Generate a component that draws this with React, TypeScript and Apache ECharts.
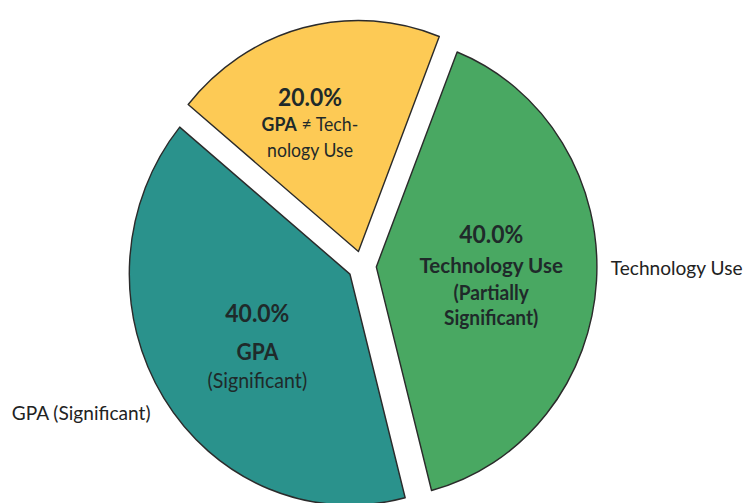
import { useEffect, useRef } from 'react';
import * as echarts from 'echarts';

// Share of findings per relationship
const categories = ['GPA ≠ Technology Use', 'Technology Use', 'GPA (Significant)'];
const shares = [20, 40, 40];
const sliceColors = ['#FDCA55', '#49A862', '#2A928C'];

// Caption shown under the percentage inside each slice (rich-text markup)
const insideCaptions = [
  '{yb|GPA}{yr| ≠ Tech-}\n{yr|nology Use}',
  '{gb|Technology Use}\n{gr|(Partially}\n{gr|Significant)}',
  '{tb|GPA}\n{tr|(Significant)}',
];
const pctStyleKeys = ['yp', 'gp', 'tp'];

// Name written beside the pie (none for the top slice)
const outsideLabels = ['', 'Technology Use', 'GPA (Significant)'];

const FONT = 'Lato, "Noto Sans", sans-serif';
const INK = '#1f2a2a';

// The chart surface is a little wider than the page and squeezed horizontally,
// so the pie reads slightly narrower than tall while nothing gets clipped.
const SQUEEZE = 0.955;
const BLEED = 18;
const PAGE_W = 747;
const PAGE_H = 503;

export default function App() {
  const ref = useRef<HTMLDivElement>(null);

  useEffect(() => {
    if (!ref.current) return;
    const chart = echarts.init(ref.current, null, { renderer: 'svg' });
    const total = shares.reduce((a, b) => a + b, 0);

    const insideNudge = [
      [-21, -14],
      [2, 0],
      [3, 3],
    ];
    const outsideNudge = [
      [0, 0],
      [10, -14],
      [-9, 14],
    ];

    const geometry = {
      type: 'pie' as const,
      center: [362 + BLEED, 266],
      radius: 231,
      startAngle: 140.5,
      clockwise: true,
      selectedMode: 'multiple' as const,
      selectedOffset: 15,
      avoidLabelOverlap: false,
      emphasis: { disabled: true },
    };

    chart.setOption({
      animation: false,
      backgroundColor: '#ffffff',
      series: [
        {
          ...geometry,
          name: 'slices',
          data: categories.map((name, i) => ({
            name,
            value: shares[i],
            selected: true,
            itemStyle: { color: sliceColors[i] },
          })),
          itemStyle: { borderColor: '#2b2b2b', borderWidth: 1.5 },
          select: { itemStyle: { borderColor: '#2b2b2b', borderWidth: 1.5 } },
          labelLine: { show: false },
          label: {
            show: true,
            position: 'inside',
            fontFamily: FONT,
            color: INK,
            formatter: (p: any) => {
              const i = p.dataIndex;
              const pct = ((shares[i] / total) * 100).toFixed(1) + '%';
              return `{${pctStyleKeys[i]}|${pct}}\n${insideCaptions[i]}`;
            },
            rich: {
              yp: { fontFamily: FONT, fontSize: 24, fontWeight: 'bold', color: INK, lineHeight: 28 },
              yb: { fontFamily: FONT, fontSize: 18.5, fontWeight: 'bold', color: INK, lineHeight: 26 },
              yr: { fontFamily: FONT, fontSize: 18.5, color: INK, lineHeight: 25 },
              gp: { fontFamily: FONT, fontSize: 24, fontWeight: 'bold', color: INK, lineHeight: 31 },
              gb: { fontFamily: FONT, fontSize: 21.5, fontWeight: 'bold', color: INK, lineHeight: 31 },
              gr: { fontFamily: FONT, fontSize: 20, fontWeight: 'bold', color: INK, lineHeight: 25 },
              tp: { fontFamily: FONT, fontSize: 24, fontWeight: 'bold', color: INK, lineHeight: 40 },
              tb: { fontFamily: FONT, fontSize: 22, fontWeight: 'bold', color: INK, lineHeight: 38 },
              tr: { fontFamily: FONT, fontSize: 20.5, color: INK, lineHeight: 18 },
            },
          },
          labelLayout: (params: any) => {
            const [dx, dy] = insideNudge[params.dataIndex];
            return { dx, dy };
          },
        },
        {
          ...geometry,
          name: 'names',
          silent: true,
          data: categories.map((name, i) => ({
            name,
            value: shares[i],
            selected: true,
            itemStyle: { color: 'rgba(0,0,0,0)' },
            label: { show: outsideLabels[i] !== '' },
          })),
          itemStyle: { borderWidth: 0 },
          select: { itemStyle: { borderWidth: 0, color: 'rgba(0,0,0,0)' } },
          labelLine: { show: false, length: 0, length2: 0 },
          label: {
            show: true,
            position: 'outside',
            fontFamily: FONT,
            fontSize: 20,
            color: '#222222',
            formatter: (p: any) => outsideLabels[p.dataIndex],
          },
          labelLayout: (params: any) => {
            const [dx, dy] = outsideNudge[params.dataIndex];
            return { dx, dy };
          },
        },
      ],
    });

    return () => chart.dispose();
  }, []);

  return (
    <div
      style={{
        position: 'absolute',
        left: 0,
        top: 0,
        width: PAGE_W,
        height: PAGE_H,
        overflow: 'hidden',
        background: '#ffffff',
      }}
    >
      <div
        ref={ref}
        style={{
          position: 'absolute',
          left: -BLEED,
          top: 0,
          width: PAGE_W + 2 * BLEED,
          height: PAGE_H,
          transform: `scaleX(${SQUEEZE})`,
          transformOrigin: `${362 + BLEED}px 0`,
        }}
      />
    </div>
  );
}
